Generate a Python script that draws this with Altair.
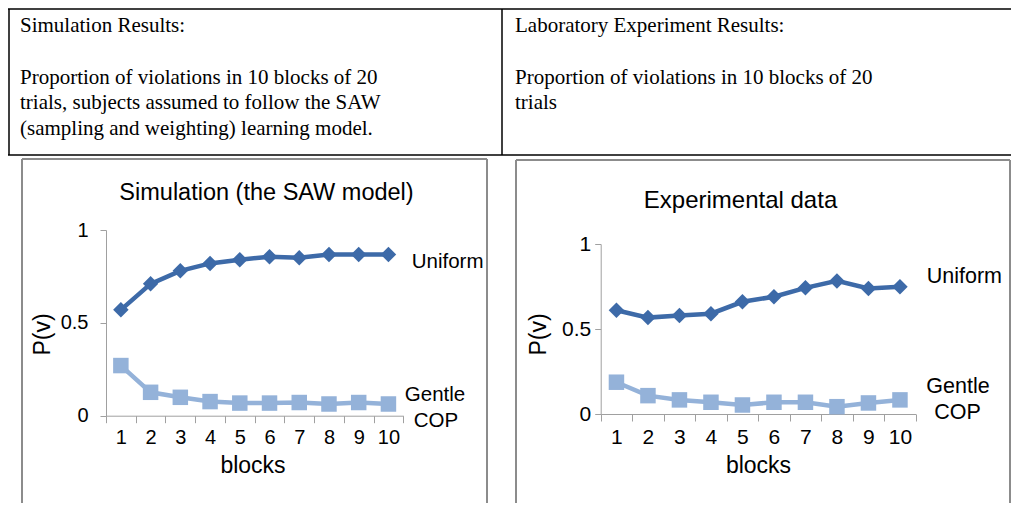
import altair as alt
import pandas as pd

# ---------------- data ----------------
blocks = [1, 2, 3, 4, 5, 6, 7, 8, 9, 10]
sim_uniform = [0.57, 0.71, 0.78, 0.82, 0.84, 0.856, 0.85, 0.868, 0.868, 0.868]
sim_gentle = [0.27, 0.126, 0.099, 0.076, 0.068, 0.068, 0.071, 0.063, 0.071, 0.063]
exp_uniform = [0.61, 0.567, 0.58, 0.59, 0.66, 0.69, 0.742, 0.783, 0.738, 0.748]
exp_gentle = [0.187, 0.108, 0.083, 0.069, 0.053, 0.069, 0.069, 0.043, 0.065, 0.083]
series_names = ["Uniform", "Gentle COP"]
series_colors = ["#3d6aa8", "#94b2d9"]
series_shapes = ["diamond", "square"]
y_ticks = [0, 0.5, 1]

left_text = [
    "Simulation Results:",
    "Proportion of violations in 10 blocks of 20",
    "trials, subjects assumed to follow the SAW",
    "(sampling and weighting) learning model.",
]
right_text = [
    "Laboratory Experiment Results:",
    "Proportion of violations in 10 blocks of 20",
    "trials",
]

# ---------------- layout ----------------
W, H = 1003, 495
SANS = "Liberation Sans"
SERIF = "Liberation Serif"
one = pd.DataFrame({"k": [0]})


def txt(s, x, y, size, font=SANS, align="left", baseline="alphabetic", angle=0):
    return alt.Chart(one).mark_text(
        text=s, font=font, fontSize=size, align=align, baseline=baseline,
        angle=angle, color="black"
    ).encode(x=alt.value(x), y=alt.value(y))


def rule(x, y, x2, y2, color, w):
    return alt.Chart(one).mark_rule(color=color, strokeWidth=w).encode(
        x=alt.value(x), y=alt.value(y), x2=alt.value(x2), y2=alt.value(y2)
    )


def panel(u, g, xr, yr, ytitle_dx, ytitle_y, ylab_pad, xtitle_x, xtitle_dy, fs):
    df = pd.DataFrame({
        "block": blocks + blocks,
        "value": u + g,
        "series": ["Uniform"] * len(blocks) + ["Gentle COP"] * len(blocks),
    })
    x = alt.X(
        "block:O",
        scale=alt.Scale(type="band", domain=blocks, range=xr, paddingInner=0, paddingOuter=0),
        axis=alt.Axis(
            orient="bottom", offset=yr[0] - H, tickBand="extent", labelAngle=0,
            tickSize=7, labelPadding=5, labelFontSize=fs,
            title="blocks", titleX=xtitle_x, titleY=xtitle_dy, titleAlign="center",
            titleBaseline="middle", titleFontSize=23, titleFontWeight="normal",
            titleAnchor="start",
        ),
    )
    y = alt.Y(
        "value:Q",
        scale=alt.Scale(domain=[0, 1], range=yr, nice=False, zero=False),
        axis=alt.Axis(
            orient="left", offset=-xr[0], values=y_ticks, format="~g",
            tickSize=6, labelPadding=ylab_pad, labelFontSize=fs, grid=False,
            title="P(v)", titleX=ytitle_dx, titleY=ytitle_y, titleAngle=270,
            titleAlign="center", titleBaseline="middle", titleFontSize=23,
            titleFontWeight="normal", titleAnchor="start",
        ),
    )
    color = alt.Color("series:N", scale=alt.Scale(domain=series_names, range=series_colors), legend=None)
    shape = alt.Shape("series:N", scale=alt.Scale(domain=series_names, range=series_shapes), legend=None)
    base = alt.Chart(df).encode(x=x, y=y, color=color)
    lines = base.mark_line(strokeWidth=4.5)
    pts = base.mark_point(filled=True, size=240, opacity=1).encode(shape=shape)
    return alt.layer(lines, pts)


left = panel(sim_uniform, sim_gentle, [98, 395.3], [407.7, 222],
             -64, 326, 12, 244.5, 49.3, 20)
right = panel(exp_uniform, exp_gentle, [592.7, 907.7], [406, 236],
              -62.7, 326, 4, 750, 51, 21)

layers = []
# table borders
layers.append(rule(0, 1, W, 1, "black", 1.5))
layers.append(rule(1, 1, 1, 147, "black", 1.5))
layers.append(rule(0, 147, W, 147, "black", 1.5))
layers.append(rule(494, 1, 494, 147, "black", 1.5))
# table text
base_y = [24, 76, 101, 126.5]
for s, yy in zip(left_text, base_y):
    layers.append(txt(s, 12, yy, 21, font=SERIF))
for s, yy in zip(right_text, base_y):
    layers.append(txt(s, 507, yy, 21, font=SERIF))
# panel frames
for (xl, xr_, yt) in [(14, 479, 151), (508, 1002, 152)]:
    layers.append(rule(xl, yt, xr_, yt, "#8c8c8c", 2))
    layers.append(rule(xl, yt, xl, H, "#8c8c8c", 2))
    layers.append(rule(xr_, yt, xr_, H, "#8c8c8c", 2))
# panel titles
layers.append(txt("Simulation (the SAW model)", 258.5, 192, 23.5, align="center"))
layers.append(txt("Experimental data", 732.5, 200, 24, align="center"))
# series labels
layers.append(txt("Uniform", 403.7, 254, 20.5, baseline="middle"))
layers.append(txt("Gentle", 427, 387, 20.5, align="center", baseline="middle"))
layers.append(txt("COP", 428, 413, 20.5, align="center", baseline="middle"))
layers.append(txt("Uniform", 918.7, 269, 21.5, baseline="middle"))
layers.append(txt("Gentle", 950, 378.7, 21.5, align="center", baseline="middle"))
layers.append(txt("COP", 949.5, 405, 21.5, align="center", baseline="middle"))

chart = alt.layer(*layers, left, right).resolve_scale(
    x="independent", y="independent"
).properties(
    width=W, height=H, padding=0, autosize=alt.AutoSizeParams(type="none")
).configure_view(stroke=None).configure_axis(
    domainColor="#a0a0a0", tickColor="#a0a0a0", labelColor="black",
    titleColor="black", labelFont=SANS, titleFont=SANS, grid=False,
)

chart.save("out.html", embed_options={"renderer": "svg", "actions": False})
